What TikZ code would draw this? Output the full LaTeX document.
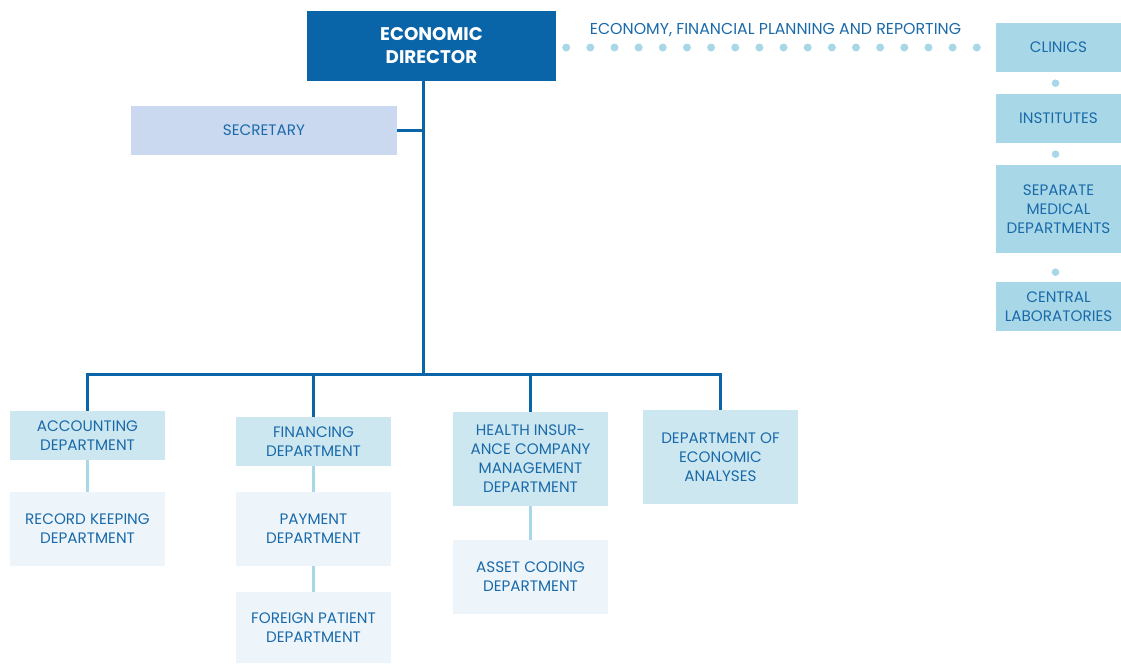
\documentclass[tikz,border=0pt]{standalone}
\usepackage{fontspec}
\setmainfont{Poppins}
\usetikzlibrary{calc}
\definecolor{dblue}{HTML}{0A64A8}
\definecolor{tblue}{HTML}{1A6AAA}
\definecolor{secfill}{HTML}{CBD9F0}
\definecolor{lvlfill}{HTML}{CDE7F0}
\definecolor{subfill}{HTML}{EDF5FB}
\definecolor{rfill}{HTML}{A8D8E7}
\tikzset{
  box/.style={rectangle, inner sep=0pt, align=center, text=tblue,
    font=\fontsize{15.2}{19}\selectfont},
  lvl/.style={box, fill=lvlfill, minimum width=155pt},
  sub/.style={box, fill=subfill, minimum width=155pt},
  rbox/.style={box, fill=rfill, minimum width=125pt},
  mainline/.style={draw=dblue, line width=3pt},
  subline/.style={draw=rfill, line width=3pt},
  dotline/.style={draw=rfill, line width=8pt, line cap=round, dash pattern=on 0pt off 24.15pt},
  dotc/.style={fill=rfill},
}
\begin{document}
\begin{tikzpicture}[x=1pt, y=-1pt]
\useasboundingbox (0,0) rectangle (1121,664);
% top
\node[box, fill=dblue, text=white, minimum width=249pt, minimum height=70pt,
  font=\fontsize{18.3}{22.6}\selectfont\bfseries] (dir) at (431.5,45.5) {ECONOMIC\\DIRECTOR};
\node[box, fill=secfill, minimum width=266pt, minimum height=49pt] (sec) at (264,130.5) {SECRETARY};
% level 1
\node[lvl, minimum height=49pt] (acc) at (87.5,435.5) {ACCOUNTING\\DEPARTMENT};
\node[lvl, minimum height=49pt] (fin) at (313.5,441.5) {FINANCING\\DEPARTMENT};
\node[lvl, minimum height=94pt] (hi) at (530.5,459) {HEALTH INSUR-\\ANCE COMPANY\\MANAGEMENT\\DEPARTMENT};
\node[lvl, minimum height=94pt] (ana) at (720.5,457) {DEPARTMENT OF\\ECONOMIC\\ANALYSES};
% level 2
\node[sub, minimum height=74pt] (rec) at (87.5,529) {RECORD KEEPING\\DEPARTMENT};
\node[sub, minimum height=74pt] (pay) at (313.5,529) {PAYMENT\\DEPARTMENT};
\node[sub, minimum height=71pt] (for) at (313.5,627.5) {FOREIGN PATIENT\\DEPARTMENT};
\node[sub, minimum height=74pt] (asset) at (530.5,577) {ASSET CODING\\DEPARTMENT};
% right column
\node[rbox, minimum height=49pt] (clin) at (1058.5,47.5) {CLINICS};
\node[rbox, minimum height=49pt] (inst) at (1058.5,118.5) {INSTITUTES};
\node[rbox, minimum height=88pt] (sep) at (1058.5,209) {SEPARATE\\MEDICAL\\DEPARTMENTS};
\node[rbox, minimum height=49pt] (cent) at (1058.5,306.5) {CENTRAL\\LABORATORIES};
\node[box, font=\fontsize{15.8}{18}\selectfont] (lab) at (775.5,30.5) {ECONOMY, FINANCIAL PLANNING AND REPORTING};
% connectors
\coordinate (bus) at (423,374);
\draw[mainline] (dir.south -| bus) -- (bus);
\draw[mainline] (sec.east) -- (sec.east -| bus);
\draw[mainline] (acc.north) |- (bus);
\draw[mainline] (fin.north) |- (bus);
\draw[mainline] (hi.north) |- (bus);
\draw[mainline] (ana.north) |- (bus);
\draw[subline] (acc.south) -- (rec.north);
\draw[subline] (fin.south) -- (pay.north);
\draw[subline] (pay.south) -- (for.north);
\draw[subline] (hi.south) -- (asset.north);
\draw[dotline] (dir.east |- clin.west) ++(10,0) -- ($(clin.west)+(-18,0)$);
\fill[dotc] ($(clin.south)+(-3,11)$) circle (3.8pt);
\fill[dotc] ($(inst.south)+(-3,11)$) circle (3.8pt);
\fill[dotc] ($(sep.south)+(-3,19)$) circle (3.8pt);
\end{tikzpicture}
\end{document}
